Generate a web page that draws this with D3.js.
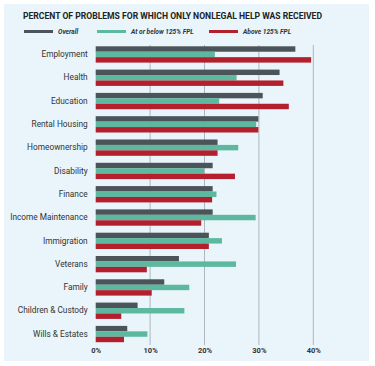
<!DOCTYPE html>
<html>
<head>
<meta charset="utf-8">
<script src="https://cdn.jsdelivr.net/npm/d3@7"></script>
<style>
  body { margin: 0; background: #fff; font-family: Roboto, "Noto Sans", sans-serif; }
  svg { display: block; }
</style>
</head>
<body>
<svg id="chart"></svg>
<script>
var categories = ['Employment', 'Health', 'Education', 'Rental Housing', 'Homeownership',
    'Disability', 'Finance', 'Income Maintenance', 'Immigration', 'Veterans', 'Family',
    'Children & Custody', 'Wills & Estates'];
var seriesNames = ['Overall', 'At or below 125% FPL', 'Above 125% FPL'];
var overall = [36.7, 33.8, 30.7, 29.9, 22.4, 21.5, 21.5, 21.5, 20.8, 15.3, 12.6, 7.7, 5.8];
var belowFpl = [21.9, 25.9, 22.7, 29.5, 26.2, 19.9, 22.2, 29.4, 23.2, 25.8, 17.2, 16.3, 9.5];
var aboveFpl = [39.6, 34.5, 35.5, 29.9, 22.4, 25.6, 21.4, 19.4, 20.8, 9.4, 10.3, 4.7, 5.2];
var tickValues = [0, 10, 20, 30, 40];

var colors = ['#4b5459', '#5cb89f', '#b31f2d'];
var width = 375, height = 366;

var svg = d3.select('#chart').attr('width', width).attr('height', height);

// light blue panel
svg.append('rect')
    .attr('x', 4).attr('y', 4)
    .attr('width', 365).attr('height', 357)
    .attr('fill', '#e9f5fb');

svg.append('text')
    .attr('x', 23).attr('y', 19)
    .attr('font-size', 8.6).attr('font-weight', 'bold')
    .attr('fill', '#222')
    .attr('textLength', 299).attr('lengthAdjust', 'spacingAndGlyphs')
    .text('PERCENT OF PROBLEMS FOR WHICH ONLY NONLEGAL HELP WAS RECEIVED');

// legend
var legendX = [24, 97, 209];
var legend = svg.selectAll('g.legend').data(seriesNames).enter().append('g')
    .attr('class', 'legend')
    .attr('transform', function (d, i) { return 'translate(' + legendX[i] + ',30)'; });
legend.append('rect')
    .attr('width', 29).attr('height', 3)
    .attr('fill', function (d, i) { return colors[i]; });
legend.append('text')
    .attr('x', 34).attr('y', 4)
    .attr('font-size', 6.6).attr('font-style', 'italic').attr('font-weight', 'bold')
    .attr('fill', '#333')
    .text(function (d) { return d; });

var x = d3.scaleLinear().domain([0, 40]).range([95.7, 313.3]);
var y = d3.scaleBand().domain(categories).range([43.5, 345]).paddingInner(0.3).paddingOuter(0.12);
var yInner = d3.scaleBand().domain([0, 1, 2]).range([0, y.bandwidth()]);

// gridlines
svg.append('g').selectAll('line').data(tickValues.slice(1)).enter().append('line')
    .attr('x1', function (d) { return x(d); }).attr('x2', function (d) { return x(d); })
    .attr('y1', 45).attr('y2', 345)
    .attr('stroke', '#aeb7bd').attr('stroke-width', 1);

var rows = categories.map(function (c, i) {
    return { name: c, values: [overall[i], belowFpl[i], aboveFpl[i]] };
});

var groups = svg.selectAll('g.row').data(rows).enter().append('g')
    .attr('class', 'row')
    .attr('transform', function (d) { return 'translate(0,' + y(d.name) + ')'; });

groups.selectAll('rect').data(function (d) { return d.values; }).enter().append('rect')
    .attr('x', x(0))
    .attr('y', function (d, i) { return yInner(i); })
    .attr('width', function (d) { return x(d) - x(0); })
    .attr('height', yInner.bandwidth())
    .attr('fill', function (d, i) { return colors[i]; });

// category labels
var yAxis = d3.axisLeft(y).tickSize(0).tickPadding(8);
svg.append('g')
    .attr('transform', 'translate(' + x(0) + ',0)')
    .call(yAxis)
    .call(function (g) { g.select('.domain').remove(); })
    .selectAll('text')
    .attr('font-size', 8.3).attr('font-family', 'Roboto, sans-serif')
    .attr('fill', '#333');

// bottom axis
var xAxis = d3.axisBottom(x).tickValues(tickValues).tickSize(0).tickPadding(0)
    .tickFormat(function (d) { return d + '%'; });
svg.append('g')
    .attr('transform', 'translate(0,348)')
    .call(xAxis)
    .call(function (g) { g.select('.domain').remove(); })
    .selectAll('text')
    .attr('font-size', 7.5).attr('font-weight', 'bold').attr('font-family', 'Roboto, sans-serif')
    .attr('fill', '#333');
</script>
</body>
</html>
